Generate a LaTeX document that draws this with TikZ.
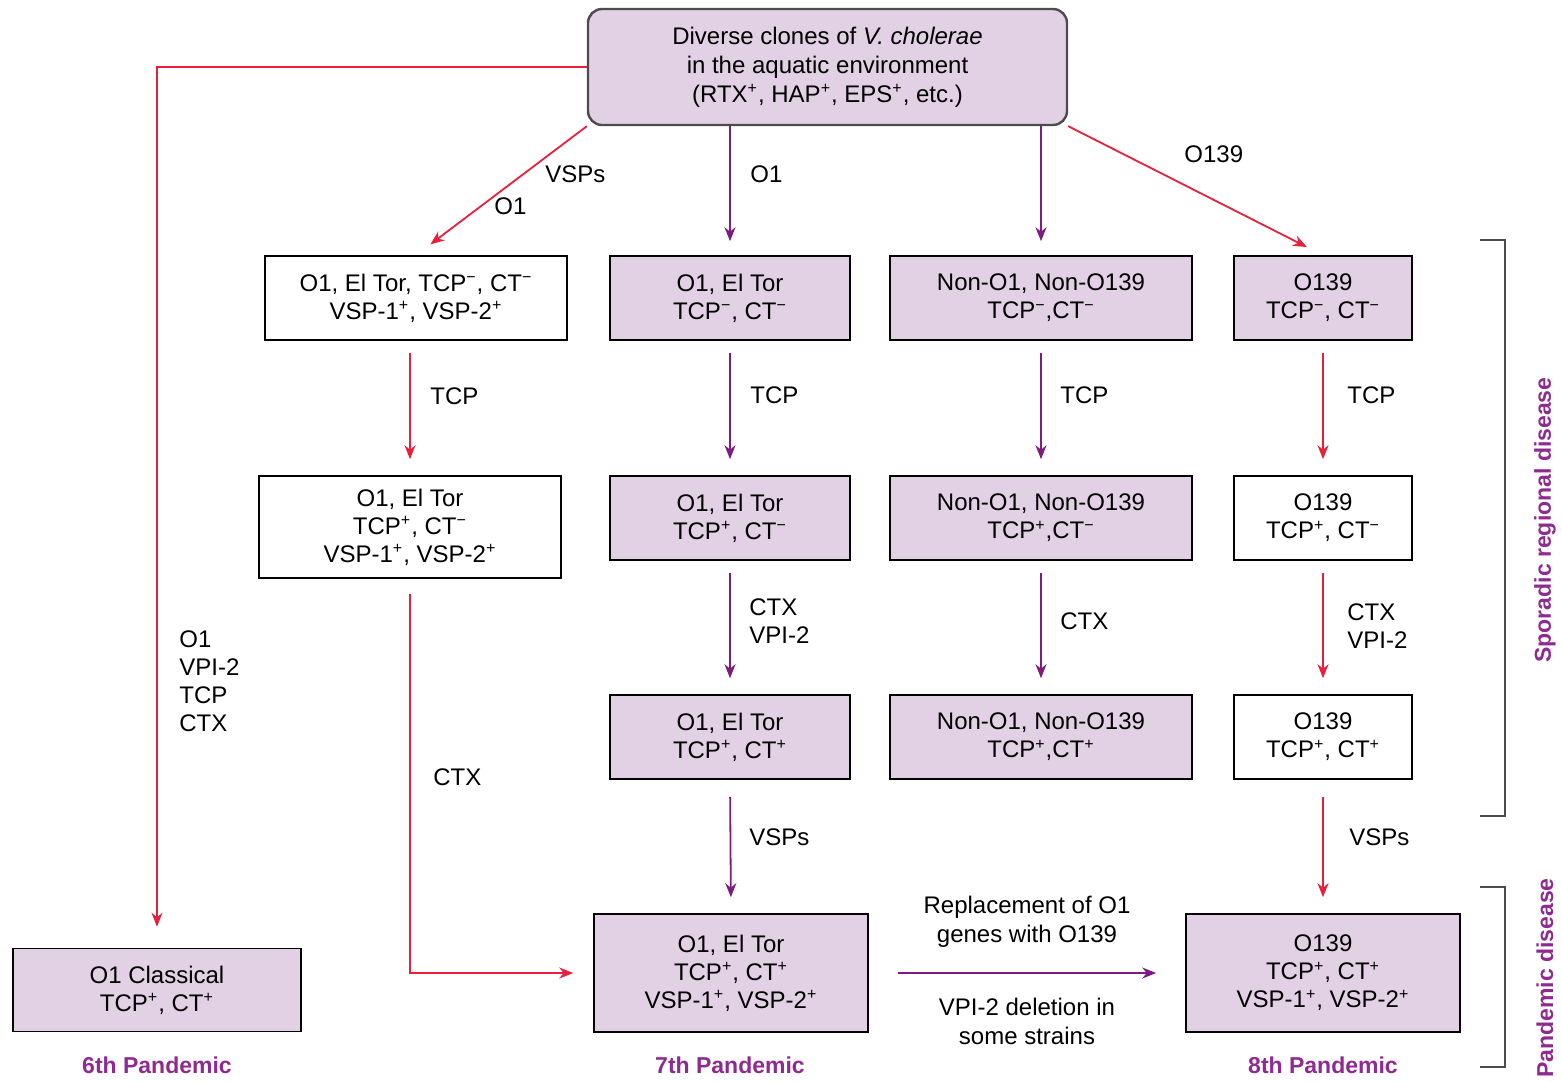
\documentclass[tikz,border=0pt]{standalone}
\usepackage{fontspec}
\setmainfont{Liberation Sans}
\usetikzlibrary{arrows.meta,calc}
\definecolor{boxfill}{HTML}{E2D0E4}
\definecolor{arrred}{HTML}{E8203C}
\definecolor{arrpurple}{HTML}{7E1A80}
\definecolor{tagpurple}{HTML}{8E2A90}
\newcommand{\pls}{\textsuperscript{+}}
\newcommand{\mns}{\textsuperscript{\char"2212}}

\tikzset{
  strain/.style={draw=black, line width=0.8pt, fill=white, align=center, inner sep=0pt,
    minimum height=42pt, font=\fontsize{12}{14}\selectfont},
  shaded/.style={strain, fill=boxfill},
  redline/.style={draw=arrred, line width=0.9pt, -{Stealth[length=7pt,width=5.5pt]}},
  purpline/.style={draw=arrpurple, line width=0.9pt, -{Stealth[length=7pt,width=5.5pt]}},
  gap/.style={shorten <=6pt, shorten >=8pt},
  note/.style={align=left, inner sep=0pt, anchor=west, font=\fontsize{12}{14}\selectfont},
  era/.style={text=tagpurple, inner sep=0pt, font=\bfseries\fontsize{11.5}{14}\selectfont},
}

\begin{document}
\begin{tikzpicture}[x=0.5pt,y=-0.5pt]
  \useasboundingbox (0,0) rectangle (1562,1081);

  % source
  \node[shaded, draw=black!70, line width=1.2pt, rounded corners=7pt,
        minimum width=239.5pt, minimum height=58pt, font=\fontsize{12}{14.5}\selectfont] (top) at (827.5,67)
    {Diverse clones of \textit{V. cholerae}\\in the aquatic environment\\(RTX\pls, HAP\pls, EPS\pls, etc.)};

  % first row
  \node[strain, minimum width=151pt] (a1) at (416,298) {O1, El Tor, TCP\mns, CT\mns\\VSP-1\pls, VSP-2\pls};
  \node[shaded, minimum width=120pt] (b1) at (730,298) {O1, El Tor\\TCP\mns, CT\mns};
  \node[shaded, minimum width=151pt] (c1) at (1041,298) {Non-O1, Non-O139\\TCP\mns ,CT\mns};
  \node[shaded, minimum width=89pt] (d1) at (1323,298) {O139\\TCP\mns, CT\mns};

  % second row
  \node[strain, minimum width=151pt, minimum height=51pt] (a2) at (410,527) {O1, El Tor\\TCP\pls, CT\mns\\VSP-1\pls, VSP-2\pls};
  \node[shaded, minimum width=120pt] (b2) at (730,518) {O1, El Tor\\TCP\pls, CT\mns};
  \node[shaded, minimum width=151pt] (c2) at (1041,518) {Non-O1, Non-O139\\TCP\pls ,CT\mns};
  \node[strain, minimum width=89pt] (d2) at (1323,518) {O139\\TCP\pls, CT\mns};

  % third row
  \node[shaded, minimum width=120pt] (b3) at (730,737) {O1, El Tor\\TCP\pls, CT\pls};
  \node[shaded, minimum width=151pt] (c3) at (1041,737) {Non-O1, Non-O139\\TCP\pls ,CT\pls};
  \node[strain, minimum width=89pt] (d3) at (1323,737) {O139\\TCP\pls, CT\pls};

  % pandemic strains
  \node[shaded, minimum width=144pt, minimum height=41.5pt] (p6) at (157,990) {O1 Classical\\TCP\pls, CT\pls};
  \node[shaded, minimum width=137pt, minimum height=59pt] (p7) at (731,973) {O1, El Tor\\TCP\pls, CT\pls\\VSP-1\pls, VSP-2\pls};
  \node[shaded, minimum width=137pt, minimum height=59pt] (p8) at (1323,973) {O139\\TCP\pls, CT\pls\\VSP-1\pls, VSP-2\pls};

  \node[era] (e6) at (157,1065) {6th Pandemic};
  \node[era] (e7) at (730,1065) {7th Pandemic};
  \node[era] (e8) at (1323,1065) {8th Pandemic};

  % arrows from the source
  \draw[redline, shorten >=10.5pt] (top.west) -| (p6.north);
  \draw[redline, shorten >=9pt] (top.south west) -- (a1.north);
  \draw[purpline, shorten >=7pt] (b1.north |- top.south) -- (b1.north);
  \draw[purpline, shorten >=7pt] (c1.north |- top.south) -- (c1.north);
  \draw[redline, shorten >=9pt] (top.south east) -- (d1.north);

  \node[note] (l1) at (179,681) {O1\\VPI-2\\TCP\\CTX};
  \node[note] (l2) at (545,174) {VSPs};
  \node[note] (l3) at (494,206) {O1};
  \node[note] (l4) at (750,174) {O1};
  \node[note] (l5) at (1184,154) {O139};

  % TCP step
  \draw[redline, gap] (a2.north |- a1.south) -- (a2.north);
  \draw[purpline, gap] (b1.south) -- (b2.north);
  \draw[purpline, gap] (c1.south) -- (c2.north);
  \draw[redline, gap] (d1.south) -- (d2.north);
  \node[note] (t1) at (430,396) {TCP};
  \node[note] (t2) at (750,395) {TCP};
  \node[note] (t3) at (1060,395) {TCP};
  \node[note] (t4) at (1347,395) {TCP};

  % CTX step
  \draw[redline, shorten <=7.5pt, shorten >=10pt] (a2.south) |- (p7.west);
  \draw[purpline, gap] (b2.south) -- (b3.north);
  \draw[purpline, gap] (c2.south) -- (c3.north);
  \draw[redline, gap] (d2.south) -- (d3.north);
  \node[note] (x1) at (433,777) {CTX};
  \node[note] (x2) at (749,621) {CTX\\VPI-2};
  \node[note] (x3) at (1060,621) {CTX};
  \node[note] (x4) at (1347,626) {CTX\\VPI-2};

  % VSP step
  \draw[purpline, shorten <=8.5pt, shorten >=8pt] (b3.south) -- (p7.north);
  \draw[redline, shorten <=8.5pt, shorten >=8pt] (d3.south) -- (p8.north);
  \node[note] (v1) at (749,837) {VSPs};
  \node[note] (v2) at (1349,837) {VSPs};

  % 7th to 8th
  \draw[purpline, shorten <=14.5pt, shorten >=14.5pt] (p7.east) -- (p8.west)
    node[midway, above=9pt, align=center, font=\fontsize{12}{14.5}\selectfont] (r1) {Replacement of O1\\genes with O139}
    node[midway, below=9pt, align=center, font=\fontsize{12}{14.5}\selectfont] (r2) {VPI-2 deletion in\\some strains};

  % brackets
  \draw[black!70, line width=1pt] (1480,240) -- (1505,240) -- (1505,816) -- (1480,816);
  \draw[black!70, line width=1pt] (1480,887) -- (1505,887) -- (1505,1067) -- (1480,1067);
  \node[era, rotate=90] (s1) at (1545,520) {Sporadic regional disease};
  \node[era, rotate=90] (s2) at (1545,978) {Pandemic disease};
\end{tikzpicture}
\end{document}
